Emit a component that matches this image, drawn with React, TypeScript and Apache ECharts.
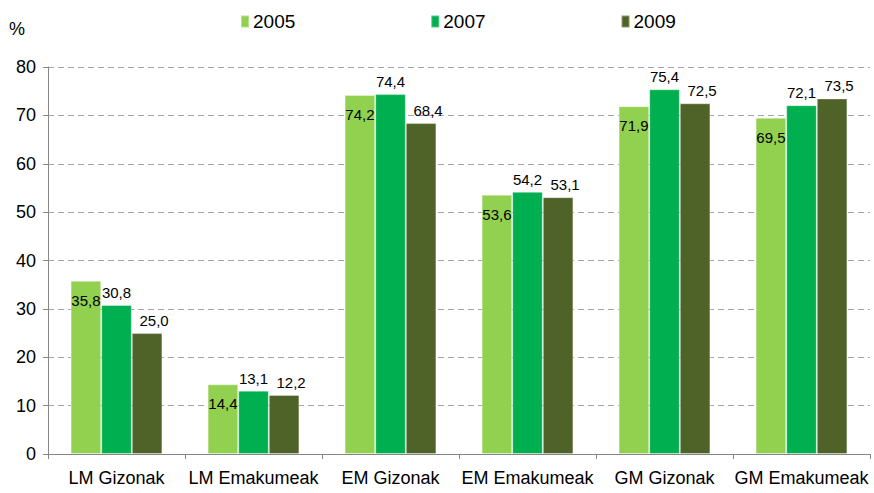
import React, { useEffect, useRef } from "react";
import * as echarts from "echarts";

const categories = ["LM Gizonak", "LM Emakumeak", "EM Gizonak", "EM Emakumeak", "GM Gizonak", "GM Emakumeak"];
const seriesNames = ["2005", "2007", "2009"];
const values2005 = [35.8, 14.4, 74.2, 53.6, 71.9, 69.5];
const values2007 = [30.8, 13.1, 74.4, 54.2, 75.4, 72.1];
const values2009 = [25.0, 12.2, 68.4, 53.1, 72.5, 73.5];
const yTicks = [0, 10, 20, 30, 40, 50, 60, 70, 80];

const colors = ["#92D050", "#00B050", "#4F6228"];
const labelFont = "'Liberation Sans', Arial, sans-serif";

const fmt = (v: number) => v.toFixed(1).replace(".", ",");

export default function App() {
  const ref = useRef<HTMLDivElement>(null);
  useEffect(() => {
    document.body.style.margin = "0";
    if (!ref.current) return;
    const chart = echarts.init(ref.current, null, { renderer: "svg" });
    const data = [values2005, values2007, values2009];
    const labelCfg = [
      { position: "insideTop", distance: 12, offset: [0, 0] },
      { position: "top", distance: 5, offset: [0, 0] },
      { position: "top", distance: 5, offset: [7, 0] },
    ];
    chart.setOption({
      animation: false,
      textStyle: { fontFamily: labelFont },
      grid: { left: 48, right: 4, top: 67, bottom: 39, containLabel: false },
      legend: {
        data: seriesNames,
        left: 240,
        top: 12,
        padding: 0,
        itemWidth: 8,
        itemHeight: 12,
        itemGap: 135,
        icon: "rect",
        textStyle: { fontFamily: labelFont, fontSize: 19, color: "#000", padding: [0, 0, 0, -1] },
      },
      graphic: [
        {
          type: "text",
          left: 9,
          top: 20,
          style: { text: "%", fontFamily: labelFont, fontSize: 18, fill: "#000" },
        },
      ],
      xAxis: {
        type: "category",
        data: categories,
        axisLine: { lineStyle: { color: "#868686" } },
        axisTick: { show: true, length: 5, alignWithLabel: false, lineStyle: { color: "#868686" } },
        axisLabel: { fontFamily: labelFont, fontSize: 18, color: "#000", margin: 15, interval: 0 },
      },
      yAxis: {
        type: "value",
        min: yTicks[0],
        max: yTicks[yTicks.length - 1],
        interval: 10,
        axisLine: { show: true, lineStyle: { color: "#868686" } },
        axisTick: { show: true, length: 5, lineStyle: { color: "#868686" } },
        axisLabel: { fontFamily: labelFont, fontSize: 18, color: "#000", margin: 12 },
        splitLine: { show: true, lineStyle: { color: "#A6A6A6", type: [6, 4], width: 1 } },
      },
      series: seriesNames.map((name, i) => ({
        name,
        type: "bar",
        data: data[i],
        barGap: "0%",
        barCategoryGap: "33%",
        itemStyle: { color: colors[i], borderColor: "rgba(255,255,255,0.35)", borderWidth: 1 },
        label: {
          show: true,
          position: labelCfg[i].position,
          distance: labelCfg[i].distance,
          offset: labelCfg[i].offset,
          formatter: (p: any) => fmt(p.value),
          fontFamily: labelFont,
          fontSize: 15,
          color: "#000",
        },
      })),
    });
    return () => chart.dispose();
  }, []);
  return <div ref={ref} style={{ width: 874, height: 493 }} />;
}
